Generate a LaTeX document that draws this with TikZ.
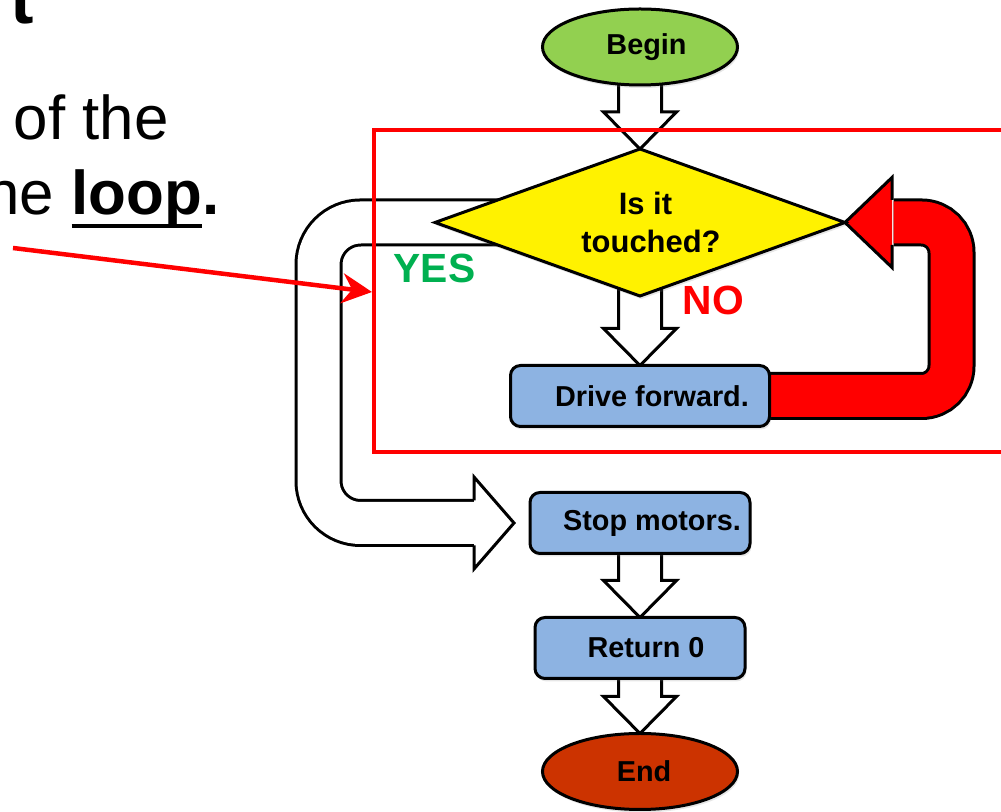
\documentclass[tikz,border=0pt]{standalone}
\usepackage{fontspec}
\setmainfont{Liberation Sans}
\usetikzlibrary{positioning,shapes.geometric,calc,arrows.meta,shadows}
\definecolor{vertdebut}{HTML}{92D050}
\definecolor{bleuboite}{HTML}{8DB3E2}
\definecolor{rougefin}{HTML}{CC3300}
\definecolor{vertoui}{HTML}{00B050}
\pgfdeclarelayer{fond}
\pgfsetlayers{fond,main}
\tikzstyle{ombre}=[drop shadow={shadow xshift=0.015cm,shadow yshift=-0.03cm,opacity=0.2}]
\tikzstyle{terminal}=[ellipse,ombre,draw=black,line width=0.03cm,outer sep=0pt,minimum width=1.95cm,minimum height=0.76cm,inner sep=0pt,font=\bfseries\fontsize{8.2}{10}\selectfont]
\tikzstyle{action}=[rectangle,ombre,rounded corners=0.1cm,draw=black,line width=0.03cm,outer sep=0pt,fill=bleuboite,minimum height=0.61cm,inner sep=0pt,font=\bfseries\fontsize{8.2}{10}\selectfont]
\tikzstyle{losange}=[diamond,ombre,draw=black,line width=0.03cm,outer sep=0pt,fill=yellow,minimum width=4.1cm,minimum height=1.47cm,aspect=2.8,inner sep=0pt,align=center,font=\bfseries\fontsize{8.8}{10.8}\selectfont]
\tikzstyle{creux}=[draw=black,line width=0.03cm,fill=white]
\tikzstyle{bande}=[draw=black,line width=0.03cm,double distance=0.42cm]
\tikzstyle{etiquette}=[font=\bfseries\fontsize{11.6}{14}\selectfont,anchor=base west,inner sep=0pt]
\tikzstyle{texte}=[font=\fontsize{17.6}{21}\selectfont,inner sep=0pt]
\newcommand{\flechecreuse}[2]{%
  \filldraw[creux] ($(#1.center)+(-0.215,0)$) -- ($(#2.north)+(-0.215,0.37)$) -- ($(#2.north)+(-0.365,0.37)$) -- (#2.north) -- ($(#2.north)+(0.365,0.37)$) -- ($(#2.north)+(0.215,0.37)$) -- ($(#1.center)+(0.215,0)$);}
\newcommand{\souligne}[1]{\setbox0\hbox{#1}\rlap{\rule[-0.13cm]{\wd0}{0.04cm}}\box0}

\begin{document}
\begin{tikzpicture}
\useasboundingbox (0,0) rectangle (10.01,-8.12);

\node[texte,font=\bfseries\fontsize{20}{24}\selectfont,anchor=base west] (titre) at (0.10,-0.24) {t};
\node[texte,anchor=base west] (ligne1) at (0.13,-1.40) {of the};
\node[texte,anchor=base east] (ligne2) at (2.20,-2.15) {the \textbf{\souligne{loop}.}};

\node[terminal,fill=vertdebut] (debut) at (6.40,-0.47) {\hspace*{0.13cm}Begin};
\node[losange] (cond) [below =0.64cm of debut] {\hspace*{0.11cm}Is it\\\hspace*{0.22cm}touched?};
\node[action,minimum width=2.59cm] (drive) [below =0.695cm of cond] {\hspace*{0.24cm}Drive forward.};
\node[action,minimum width=2.20cm] (stop) [below =0.66cm of drive] {\hspace*{0.24cm}Stop motors.};
\node[action,minimum width=2.10cm] (ret) [below =0.64cm of stop] {\hspace*{0.12cm}Return 0};
\node[terminal,fill=rougefin] (fin) [below =0.55cm of ret] {\hspace*{0.08cm}End};

\node[etiquette,text=vertoui] (oui) at (3.93,-2.83) {YES};
\node[etiquette,text=red] (non) at (6.82,-3.15) {NO};

\begin{pgfonlayer}{fond}
% branche YES
\coordinate (ouigauche) at ($(stop.west)+(-2.115,0)$);
\draw[bande,double=white,rounded corners=0.42cm] (cond.center) -- (cond.center -| ouigauche) -- (ouigauche) -- ($(stop.west)+(-0.545,0)$);
\filldraw[creux] ($(stop.west)+(-0.56,0.225)$) -- ($(stop.west)+(-0.56,0.46)$) -- ($(stop.west)+(-0.16,0)$) -- ($(stop.west)+(-0.56,-0.46)$) -- ($(stop.west)+(-0.56,-0.225)$);
% boucle NO
\coordinate (nondroite) at ($(drive.east)+(1.82,0)$);
\draw[bande,double=red,rounded corners=0.3cm] (drive.center) -- (nondroite) -- (nondroite |- cond.east) -- ($(cond.east)+(0.485,0)$);
\filldraw[creux,fill=red] ($(cond.east)+(0.47,-0.225)$) -- ($(cond.east)+(0.47,-0.45)$) -- (cond.east) -- ($(cond.east)+(0.47,0.45)$) -- ($(cond.east)+(0.47,0.225)$);
\flechecreuse{debut}{cond}
\flechecreuse{cond}{drive}
\flechecreuse{stop}{ret}
\flechecreuse{ret}{fin}
\end{pgfonlayer}

\draw[red,line width=0.045cm] (3.74,-1.30) rectangle (10.10,-4.52);
\coordinate (depart) at (0.13,-2.48);
\coordinate (pointe) at (3.72,-2.92);
\draw[red,line width=0.045cm,-{Stealth[length=0.3cm,width=0.3cm,inset=0.1cm]}] (depart) -- (pointe);

\end{tikzpicture}
\end{document}
